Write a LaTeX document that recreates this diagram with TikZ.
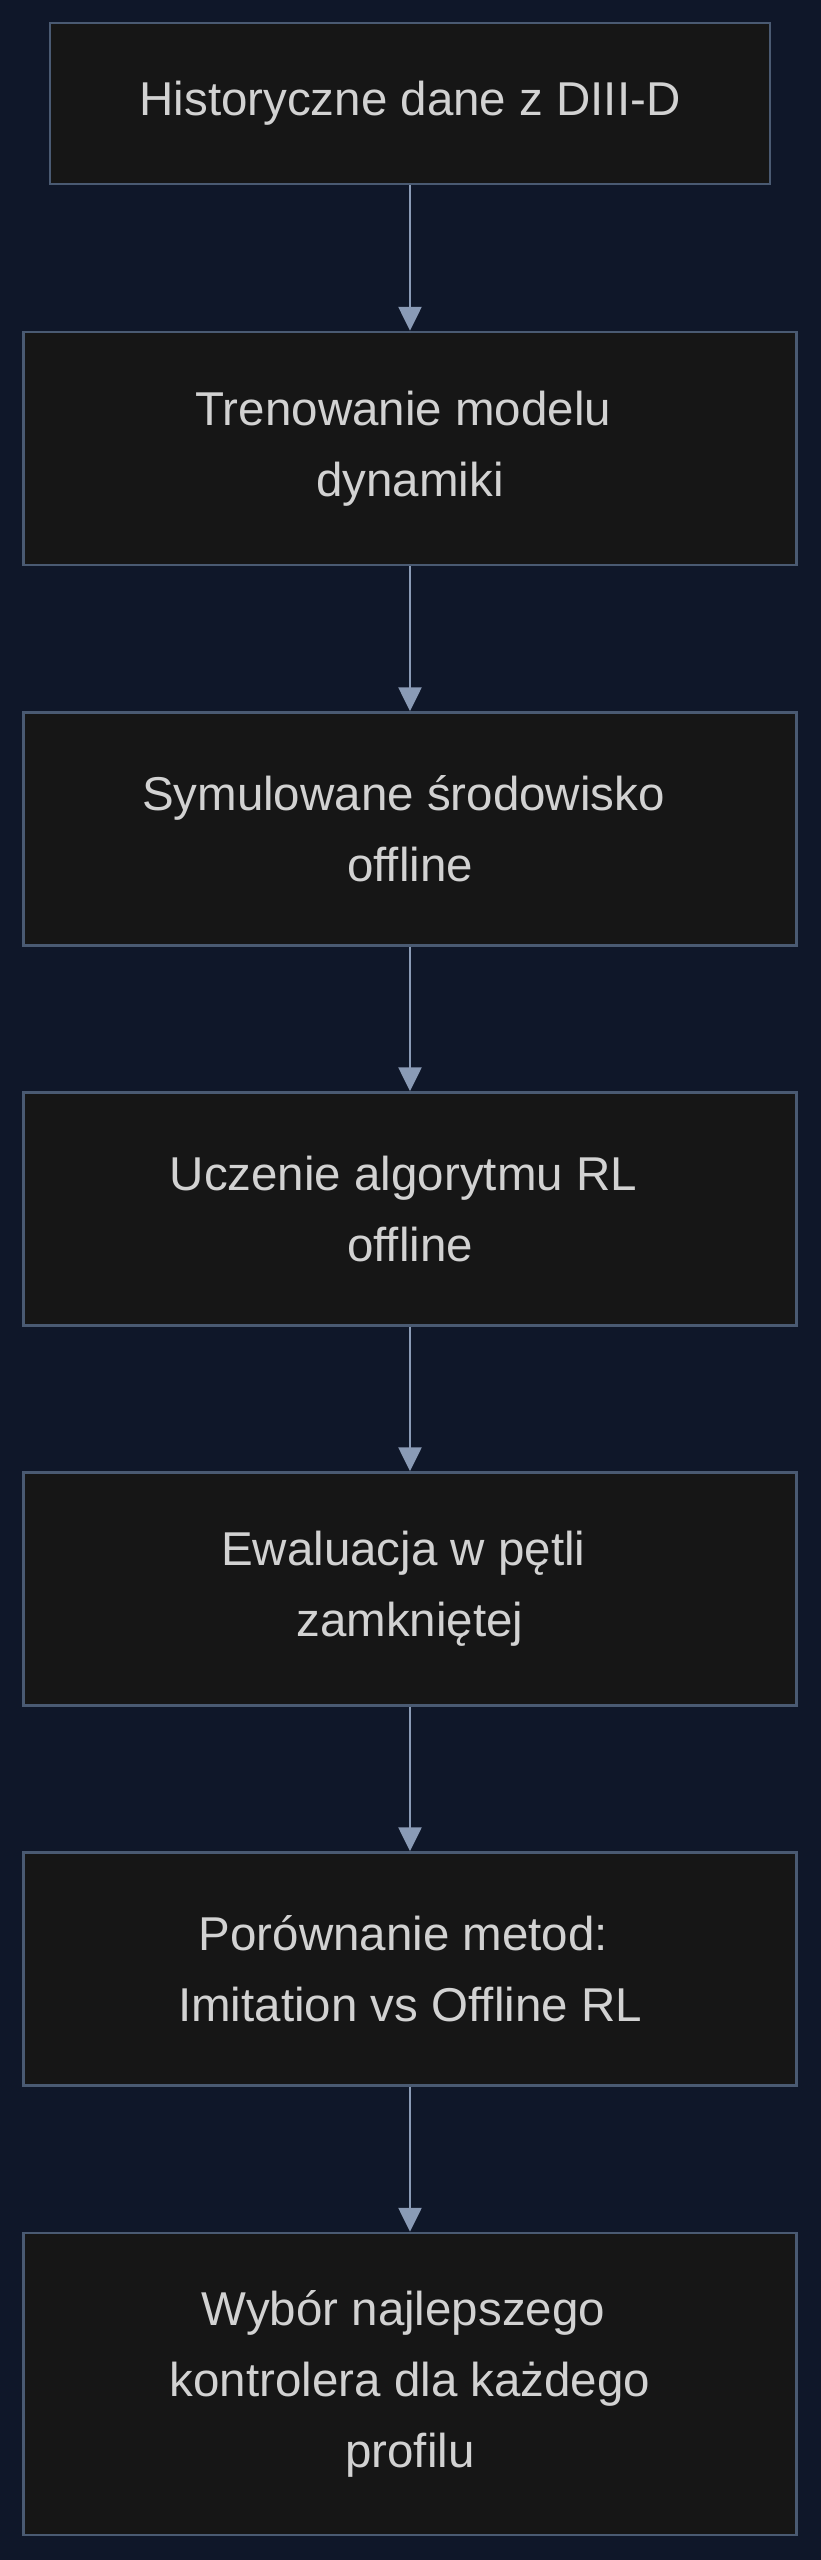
\documentclass[tikz,border=0pt]{standalone}
\usepackage{fontspec}
\setmainfont{Liberation Sans}
\usetikzlibrary{arrows.meta}
\definecolor{bgc}{HTML}{0F1729}
\definecolor{boxfill}{HTML}{161616}
\definecolor{boxline}{HTML}{4A5A72}
\definecolor{txt}{HTML}{D2D2D2}
\definecolor{arr}{HTML}{8A9BB6}
\newcommand\trsp{\hspace*{.278em}}
\tikzset{
  stepbox/.style={draw=boxline, line width=2.5pt, fill=boxfill, text=txt,
    align=center, inner sep=0pt, font=\fontsize{47.5}{71}\selectfont},
  flow/.style={draw=arr, line width=2.6pt, -{Triangle[length=24pt,width=23pt]}}
}
\begin{document}
\begin{tikzpicture}[x=1pt,y=-1pt]
\useasboundingbox (0,0) rectangle (820,2560);
\fill[bgc] (-10,-10) rectangle (830,2570);
\node[stepbox, minimum width=720pt, minimum height=161pt] (n1) at (410,103.5) {Historyczne dane z DIII-D};
\node[stepbox, minimum width=773pt, minimum height=233pt] (n2) at (410,448.5) {Trenowanie modelu\trsp\\dynamiki};
\node[stepbox, minimum width=773pt, minimum height=233pt] (n3) at (410,829) {Symulowane środowisko\trsp\\offline};
\node[stepbox, minimum width=773pt, minimum height=233pt] (n4) at (410,1209) {Uczenie algorytmu RL\trsp\\offline};
\node[stepbox, minimum width=773pt, minimum height=233pt] (n5) at (410,1589) {Ewaluacja w pętli\trsp\\zamkniętej};
\node[stepbox, minimum width=773pt, minimum height=233pt] (n6) at (410,1969) {Porównanie metod:\trsp\\Imitation vs Offline RL};
\node[stepbox, minimum width=773pt, minimum height=302pt] (n7) at (410,2384) {Wybór najlepszego\trsp\\kontrolera dla każdego\trsp\\profilu};
\draw[flow] (n1.south) -- (n2.north);
\draw[flow] (n2.south) -- (n3.north);
\draw[flow] (n3.south) -- (n4.north);
\draw[flow] (n4.south) -- (n5.north);
\draw[flow] (n5.south) -- (n6.north);
\draw[flow] (n6.south) -- (n7.north);
\end{tikzpicture}
\end{document}
